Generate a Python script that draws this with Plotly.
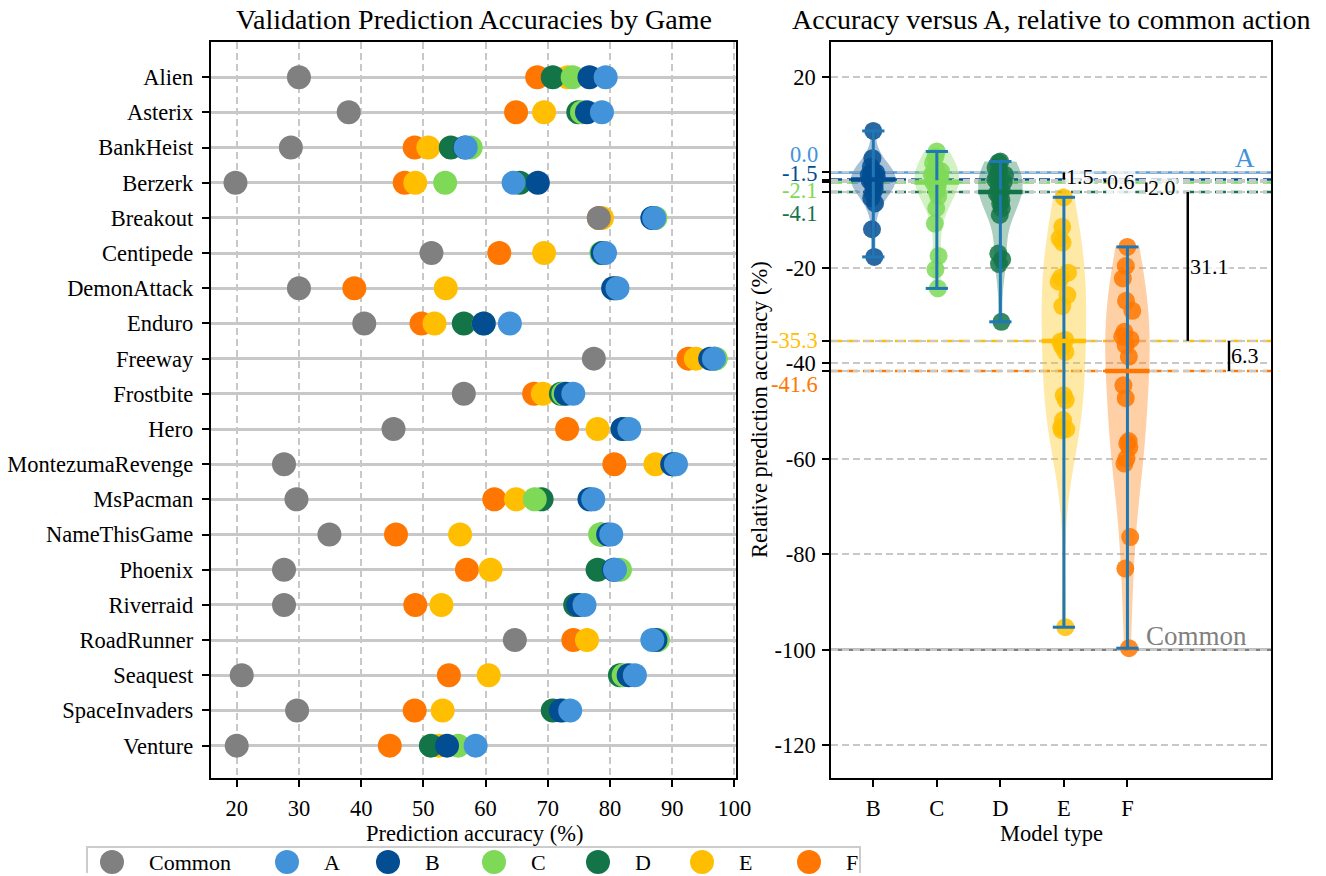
import numpy as np
import plotly.graph_objects as go

# ---------------- data ----------------
games = ["Alien", "Asterix", "BankHeist", "Berzerk", "Breakout", "Centipede",
         "DemonAttack", "Enduro", "Freeway", "Frostbite", "Hero",
         "MontezumaRevenge", "MsPacman", "NameThisGame", "Phoenix",
         "Riverraid", "RoadRunner", "Seaquest", "SpaceInvaders", "Venture"]

acc_common = [30.0, 38.0, 28.7, 19.8, 78.2, 51.3, 30.0, 40.5, 77.4, 56.5,
              45.2, 27.6, 29.6, 34.9, 27.6, 27.6, 64.7, 20.8, 29.7, 20.0]
acc_A = [79.3, 78.7, 56.8, 64.5, 87.1, 79.2, 81.2, 63.9, 96.7, 74.1,
         83.1, 90.6, 77.3, 80.2, 80.8, 75.9, 86.8, 84.0, 73.6, 58.4]
acc_B = [76.7, 76.3, 56.7, 68.4, 86.8, 78.8, 80.5, 59.7, 96.1, 72.9,
         82.0, 90.0, 76.7, 79.7, 80.6, 74.9, 87.3, 83.0, 72.1, 53.8]
acc_C = [74.0, 75.5, 57.6, 53.5, 87.3, 78.6, 80.8, 59.7, 97.0, 72.5,
         82.3, 90.3, 67.9, 78.4, 81.6, 75.0, 87.7, 82.2, 72.5, 55.6]
acc_D = [70.8, 74.9, 54.4, 65.5, 87.0, 78.7, 80.9, 56.5, 96.8, 72.1,
         82.3, 90.3, 69.0, 78.6, 78.0, 74.4, 87.5, 81.6, 70.8, 51.2]
acc_E = [73.2, 69.4, 50.8, 48.7, 78.7, 69.4, 53.6, 51.8, 93.8, 69.2,
         78.0, 87.3, 64.9, 55.9, 60.8, 52.9, 76.3, 60.5, 53.1, 52.5]
acc_F = [68.3, 64.9, 48.6, 47.0, 78.2, 62.2, 38.9, 49.7, 92.6, 67.8,
         73.1, 80.7, 61.4, 45.6, 57.0, 48.7, 74.1, 54.1, 48.6, 44.6]

# relative accuracy (%) per game, right panel
rel_B = [8.7, 3.0, 1.2, 0.5, 0.0, -0.3, -0.5, -0.8, -1.0, -1.3, -1.7, -2.0,
         -2.5, -3.0, -3.5, -4.4, -5.4, -6.5, -11.9, -17.7]
rel_C = [4.4, 3.3, 2.0, 0.9, 0.3, -0.2, -0.5, -0.9, -1.3, -2.0, -2.2, -2.3,
         -3.0, -4.0, -5.0, -7.5, -10.7, -17.5, -20.3, -24.3]
rel_D = [2.3, 2.1, 1.0, 0.5, -0.5, -1.0, -1.5, -2.0, -2.8, -3.8, -4.4, -5.0,
         -5.8, -6.5, -7.5, -8.9, -17.0, -18.2, -19.2, -31.3]
rel_E = [-5.2, -11.4, -13.8, -14.7, -21.0, -22.0, -22.9, -25.7, -28.0, -35.1,
         -35.5, -36.5, -37.6, -46.7, -47.7, -51.9, -53.4, -53.8, -54.0, -95.3]
rel_F = [-15.6, -19.6, -22.2, -26.9, -29.0, -33.4, -34.4, -35.0, -36.2, -38.6,
         -44.6, -47.3, -56.3, -56.8, -57.6, -59.9, -61.0, -76.4, -83.0, -99.7]

median_models = ["B", "C", "D", "E", "F"]
median_rel = [-1.5, -2.1, -4.1, -35.3, -41.6]
gap_labels = ["1.5", "0.6", "2.0", "31.1", "6.3"]
ref_A = 0.0
ref_common = -100.0

right_yticks = [20, -20, -40, -60, -80, -100, -120]

# ---------------- styling ----------------
FONT = "Liberation Serif"
col = {"Common": "#808080", "A": "#4393db", "B": "#034d92", "C": "#7ed957",
       "D": "#137547", "E": "#ffbf00", "F": "#ff7700"}
BAR = "#1f77b4"
GRID = "#c8c8c8"
W, H = 1326, 876


def rgba(hexc, a):
    h = hexc.lstrip("#")
    return "rgba(%d,%d,%d,%.2f)" % (int(h[0:2], 16), int(h[2:4], 16), int(h[4:6], 16), a)


fig = go.Figure()

# ---------------- left panel ----------------
left = {"A": acc_A, "B": acc_B, "C": acc_C, "D": acc_D, "E": acc_E, "F": acc_F,
        "Common": acc_common}
yidx = list(range(len(games)))
for name in ["F", "E", "D", "C", "B", "A", "Common"]:
    fig.add_trace(go.Scatter(x=left[name], y=yidx, mode="markers",
                             marker=dict(size=24, color=col[name], line=dict(width=0)),
                             xaxis="x", yaxis="y", showlegend=False, name=name))

# ---------------- right panel ----------------
rel = {"B": rel_B, "C": rel_C, "D": rel_D, "E": rel_E, "F": rel_F}
xpos = {m: i for i, m in enumerate(median_models)}

shapes = []
# reference lines (below traces)
shapes.append(dict(type="line", xref="x2 domain", yref="y2", x0=0, x1=1,
                   y0=ref_A, y1=ref_A, layer="below",
                   line=dict(color=rgba(col["A"], 0.9), width=2.5)))
shapes.append(dict(type="line", xref="x2 domain", yref="y2", x0=0, x1=1,
                   y0=ref_common, y1=ref_common, layer="below",
                   line=dict(color=col["Common"], width=2.5)))
for m, v in zip(median_models, median_rel):
    shapes.append(dict(type="line", xref="x2 domain", yref="y2", x0=0, x1=1,
                       y0=v, y1=v, layer="below",
                       line=dict(color=col[m], width=2.5, dash="11px,5px")))

# gap brackets
levels = [ref_A] + median_rel
bracket_x = [3.0 + 0.65 * i for i in range(len(gap_labels))]
annotations = []
for i, lab in enumerate(gap_labels):
    y0, y1 = levels[i], levels[i + 1]
    shapes.append(dict(type="line", xref="x2", yref="y2", x0=bracket_x[i], x1=bracket_x[i],
                       y0=y0, y1=y1, layer="above", line=dict(color="black", width=2.5)))
    annotations.append(dict(xref="x2", yref="y2", x=bracket_x[i], y=(y0 + y1) / 2,
                            text=lab, showarrow=False, xanchor="left", yanchor="middle",
                            xshift=1, font=dict(family=FONT, size=22, color="black"),
                            bgcolor="rgba(255,255,255,0.7)", borderpad=0))

# violins (bodies)
VW = 0.7
for m in median_models:
    v = np.array(rel[m])
    bw = float(np.std(v, ddof=1) * len(v) ** (-0.2))
    fig.add_trace(go.Violin(x=[xpos[m]] * len(v), y=v, width=VW, spanmode="hard",
                            bandwidth=bw, scalemode="width", points=False,
                            fillcolor=rgba(col[m], 0.35),
                            line=dict(width=0, color=rgba(col[m], 0)),
                            xaxis="x2", yaxis="y2", showlegend=False, hoverinfo="skip"))

# extrema bars and caps
bx, by = [], []
cap = VW / 4
for m in median_models:
    v = np.array(rel[m])
    x = xpos[m]
    bx += [x, x, None, x - cap, x + cap, None, x - cap, x + cap, None]
    by += [v.min(), v.max(), None, v.min(), v.min(), None, v.max(), v.max(), None]
fig.add_trace(go.Scatter(x=bx, y=by, mode="lines", line=dict(color=BAR, width=3),
                         xaxis="x2", yaxis="y2", showlegend=False, hoverinfo="skip"))

# median bars
for m, med in zip(median_models, median_rel):
    x = xpos[m]
    fig.add_trace(go.Scatter(x=[x - VW / 2, x + VW / 2], y=[med, med], mode="lines",
                             line=dict(color=col[m], width=4.5),
                             xaxis="x2", yaxis="y2", showlegend=False, hoverinfo="skip"))

# points (jittered by the violin trace)
for m in median_models:
    v = np.array(rel[m])
    fig.add_trace(go.Violin(x=[xpos[m]] * len(v), y=v, width=VW, spanmode="hard",
                            points="all", pointpos=0, jitter=0.25,
                            fillcolor="rgba(0,0,0,0)",
                            line=dict(width=0, color="rgba(0,0,0,0)"),
                            marker=dict(size=18, color=col[m], opacity=0.85),
                            xaxis="x2", yaxis="y2", showlegend=False, hoverinfo="skip"))

# coloured tick labels on the right axis
special = [("0.0", ref_A, col["A"], 18), ("-1.5", -1.5, col["B"], 6),
           ("-2.1", -2.1, col["C"], -8), ("-4.1", -4.1, col["D"], -21),
           ("-35.3", -35.3, col["E"], 0), ("-41.6", -41.6, col["F"], -14)]
for txt, val, c, sh in special:
    annotations.append(dict(xref="x2 domain", yref="y2", x=0, y=val, text=txt,
                            showarrow=False, xanchor="right", yanchor="middle",
                            xshift=-11, yshift=sh, font=dict(family=FONT, size=22.5, color=c)))

annotations.append(dict(xref="x2 domain", yref="y2", x=0.968, y=ref_A, text="A",
                        showarrow=False, xanchor="right", yanchor="bottom", yshift=-3,
                        font=dict(family=FONT, size=27, color=col["A"])))
annotations.append(dict(xref="x2 domain", yref="y2", x=0.95, y=ref_common, text="Common",
                        showarrow=False, xanchor="right", yanchor="bottom", yshift=-3,
                        font=dict(family=FONT, size=27, color=col["Common"])))

# titles and axis labels
def px(xp, yp):
    return xp / W, 1 - yp / H

for text, (xp, yp), size, ang in [
        ("Validation Prediction Accuracies by Game", (474, 20), 28, 0),
        ("Accuracy versus A, relative to common action", (1051, 20), 28, 0),
        ("Prediction accuracy (%)", (474, 833), 22.5, 0),
        ("Model type", (1051, 833), 22.5, 0),
        ("Relative prediction accuracy (%)", (760, 410), 22.5, -90)]:
    x, y = px(xp, yp)
    annotations.append(dict(xref="paper", yref="paper", x=x, y=y, text=text, showarrow=False,
                            xanchor="center", yanchor="middle", textangle=ang,
                            font=dict(family=FONT, size=size, color="black")))

# ---------------- custom legend row ----------------
legend_names = ["Common", "A", "B", "C", "D", "E", "F"]
legend_x = [112, 287, 388, 494, 598, 702, 809]
fig.add_trace(go.Scatter(x=legend_x, y=[0] * len(legend_x), mode="markers",
                         marker=dict(size=24, color=[col[n] for n in legend_names]),
                         xaxis="x3", yaxis="y3", showlegend=False, hoverinfo="skip"))
for n, lx in zip(legend_names, legend_x):
    annotations.append(dict(xref="x3", yref="y3", x=lx + 35, y=0, text=n, showarrow=False,
                            xanchor="left", yanchor="middle",
                            font=dict(family=FONT, size=22, color="black")))
# legend frame (open at the bottom, cut off by the page edge like the reference)
lx0, lx1, ly0, ly1 = 87 / W, 860 / W, 3 / H, 1 - 847 / H
shapes.append(dict(type="path", xref="paper", yref="paper", layer="below",
                   path=f"M {lx0},{ly0} L {lx0},{ly1} L {lx1},{ly1} L {lx1},{ly0}",
                   line=dict(color="#cccccc", width=2)))

# ---------------- axes ----------------
axis_common = dict(showline=True, mirror=True, linecolor="black", linewidth=1.5,
                   ticks="outside", ticklen=7, tickwidth=1.5, tickcolor="black",
                   zeroline=False, tickfont=dict(family=FONT, size=22.5, color="black"))
ydom = [1 - 778 / H, 1 - 42 / H]

fig.update_layout(
    width=W, height=H, margin=dict(l=0, r=0, t=0, b=0), autosize=False,
    paper_bgcolor="white", plot_bgcolor="white", showlegend=False,
    violinmode="overlay",
    xaxis=dict(domain=[210.6 / W, 736 / W], range=[15.8, 100.25],
               tickvals=list(range(20, 101, 10)), showgrid=True, gridcolor=GRID,
               gridwidth=1.5, griddash="7px,4px", anchor="y", ticklabelstandoff=2,
               automargin=False, **axis_common),
    yaxis=dict(domain=ydom, range=[19.92, -1.0], tickvals=yidx, ticktext=games,
               showgrid=True, gridcolor=GRID, gridwidth=2.5, anchor="x",
               ticklabelstandoff=4, automargin=False, **axis_common),
    xaxis2=dict(domain=[831 / W, 1271 / W], range=[-0.666, 6.26],
                tickvals=list(range(len(median_models))), ticktext=median_models,
                showgrid=False, anchor="y2", ticklabelstandoff=2, automargin=False,
                **axis_common),
    yaxis2=dict(domain=ydom, range=[-126.9, 27.34],
                tickvals=right_yticks + [ref_A] + median_rel,
                ticktext=[str(t) for t in right_yticks] + [""] * (1 + len(median_rel)),
                showgrid=True, gridcolor=GRID, gridwidth=1.5, griddash="7px,4px",
                anchor="x2", ticklabelstandoff=2, automargin=False, **axis_common),
    xaxis3=dict(domain=[87 / W, 860 / W], range=[87, 860], visible=False, anchor="y3"),
    yaxis3=dict(domain=[0, 28 / H], range=[-1, 1], visible=False, anchor="x3"),
    shapes=shapes, annotations=annotations,
)

fig.write_html("out.html", config={"responsive": False, "displayModeBar": False})
